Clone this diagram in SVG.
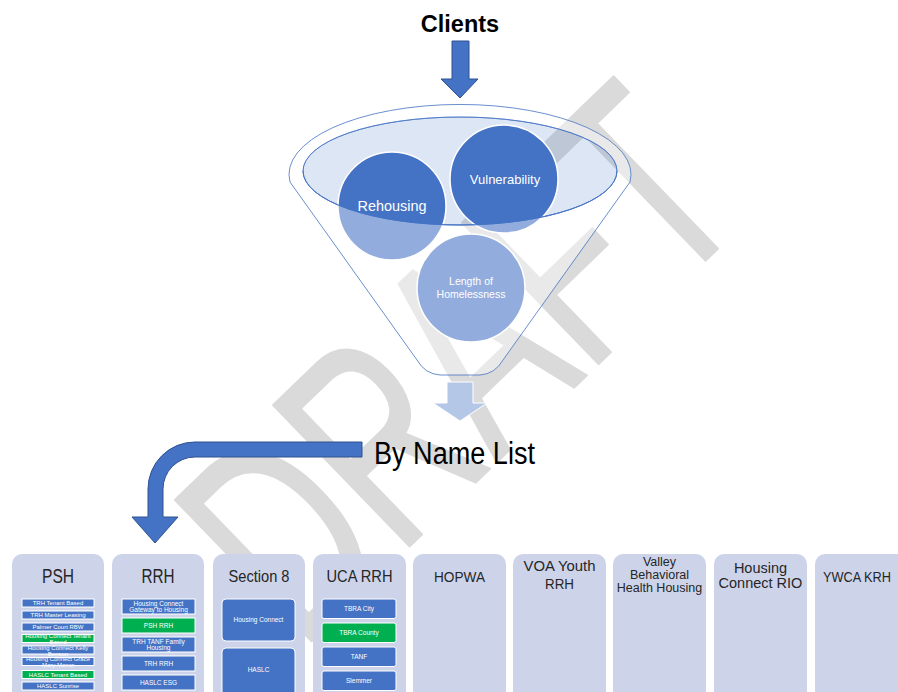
<svg xmlns="http://www.w3.org/2000/svg" width="898" height="692" viewBox="0 0 898 692">
<defs>
<style>
text{font-family:"Liberation Sans",Arial,sans-serif}
.wm{fill:#dadada;stroke:#dadada;stroke-width:2.5;stroke-linejoin:round;font-size:285px}
.col{fill:#cdd4ea}
.hd{fill:#262626;text-anchor:middle}
.sb{fill:#4472c4;stroke:#fff;stroke-width:1}
.sg{fill:#00b050;stroke:#fff;stroke-width:1}
.st{fill:#fff;text-anchor:middle;font-size:6px}
.st2{fill:#fff;text-anchor:middle;font-size:6.5px}
.ct{fill:#fff;text-anchor:middle}
.circ{fill:#4472c4;stroke:#fff;stroke-width:1.5}
.arr{fill:#4472c4;stroke:#2f528f;stroke-width:1}
</style>
</defs>
<rect width="898" height="692" fill="#fff"/>
<g id="watermark">
<text class="wm" transform="translate(300,652) rotate(-44)" textLength="630" lengthAdjust="spacingAndGlyphs">DRAFT</text>
</g>
<g id="funnel">
<ellipse cx="460" cy="171" rx="157" ry="54" fill="#4472c4" fill-opacity="0.18" stroke="#4472c4" stroke-width="0.8"/>
<g id="circle-rehousing"><circle class="circ" cx="392" cy="206" r="54"/></g>
<g id="circle-vulnerability"><circle class="circ" cx="504" cy="179" r="54"/></g>
<g id="circle-length"><circle class="circ" cx="471" cy="288" r="54"/></g>
<path d="M290,182 A171,70 0 1 1 630,182 L503,360 Q495,374 480,375 L440,375 Q425,374 417,360 Z M303,171 A157,54 0 1 0 617,171 A157,54 0 1 0 303,171 Z" fill="#fff" fill-opacity="0.42" fill-rule="evenodd" stroke="#4472c4" stroke-width="0.8"/>
<path d="M303,171 A157,54 0 0 0 617,171" fill="none" stroke="#4472c4" stroke-width="0.8"/>
<text class="ct" x="392" y="211" font-size="15" textLength="69" lengthAdjust="spacingAndGlyphs">Rehousing</text>
<text class="ct" x="505" y="184" font-size="13">Vulnerability</text>
<text class="ct" x="471" y="285" font-size="10.5">Length of</text>
<text class="ct" x="471" y="298" font-size="10.5">Homelessness</text>
</g>
<g id="clients"><text x="460" y="32" text-anchor="middle" font-size="23.5" font-weight="bold" fill="#000">Clients</text></g>
<g id="by-name-list"><text x="374" y="464" font-size="31" fill="#000" textLength="161" lengthAdjust="spacingAndGlyphs">By Name List</text></g>
<g id="connectors">
<path class="arr" d="M452,41 L469,41 L469,79 L478,79 L460,98 L441,79 L452,79 Z"/>
<path d="M447,382 L473,382 L473,403 L487,403 L460,421 L433,403 L447,403 Z" fill="#b4c7e7" stroke="#fff" stroke-width="1"/>
<path class="arr" d="M362,442 L195,442 A47,47 0 0 0 148,489 L148,517 L132,517 L155,543 L178,517 L163,517 L163,489 A32,32 0 0 1 195,457 L362,457 Z"/>
</g>
<g id="col-psh">
<rect class="col" x="12" y="554" width="92" height="150" rx="10"/>
<text class="hd" x="58" y="583" font-size="21" textLength="32" lengthAdjust="spacingAndGlyphs">PSH</text>
<rect class="sb" x="22" y="599" width="72" height="8"/><text class="st" x="58" y="605">TRH Tenant Based</text>
<rect class="sb" x="22" y="611" width="72" height="8"/><text class="st" x="58" y="617">TRH Master Leasing</text>
<rect class="sb" x="22" y="623" width="72" height="8"/><text class="st" x="58" y="629">Palmer Court RBW</text>
<rect class="sg" x="22" y="634.5" width="72" height="8"/><text class="st" x="58" y="638">Housing Connect Tenant</text><text class="st" x="58" y="644">Based</text>
<rect class="sb" x="22" y="646" width="72" height="8"/><text class="st" x="58" y="649.5">Housing Connect Kelly</text><text class="st" x="58" y="655.5">Benson</text>
<rect class="sb" x="22" y="657.5" width="72" height="8"/><text class="st" x="58" y="661">Housing Connect Grace</text><text class="st" x="58" y="667">Mary Manor</text>
<rect class="sg" x="22" y="670.5" width="72" height="8"/><text class="st" x="58" y="676.5">HASLC Tenant Based</text>
<rect class="sb" x="22" y="682" width="72" height="8"/><text class="st" x="58" y="688">HASLC Sunrise</text>
</g>
<g id="col-rrh">
<rect class="col" x="112" y="554" width="92" height="150" rx="10"/>
<text class="hd" x="158" y="583" font-size="21" textLength="33" lengthAdjust="spacingAndGlyphs">RRH</text>
<rect class="sb" x="122" y="599" width="73" height="15"/><text class="st2" x="158.5" y="605.5">Housing Connect</text><text class="st2" x="158.5" y="612">Gateway to Housing</text>
<rect class="sg" x="122" y="618" width="73" height="15"/><text class="st2" x="158.5" y="627.5">PSH RRH</text>
<rect class="sb" x="122" y="637" width="73" height="15"/><text class="st2" x="158.5" y="643.5">TRH TANF Family</text><text class="st2" x="158.5" y="650">Housing</text>
<rect class="sb" x="122" y="656" width="73" height="15"/><text class="st2" x="158.5" y="665.5">TRH RRH</text>
<rect class="sb" x="122" y="675" width="73" height="15"/><text class="st2" x="158.5" y="684.5">HASLC ESG</text>
</g>
<g id="col-section8">
<rect class="col" x="213" y="554" width="92" height="150" rx="10"/>
<text class="hd" x="259" y="582" font-size="16.5" textLength="61" lengthAdjust="spacingAndGlyphs">Section 8</text>
<rect class="sb" x="222" y="599" width="73" height="42" rx="4"/><text class="st2" x="258.5" y="622">Housing Connect</text>
<rect class="sb" x="222" y="648" width="73" height="50" rx="4"/><text class="st2" x="258.5" y="672">HASLC</text>
</g>
<g id="col-uca-rrh">
<rect class="col" x="313" y="554" width="93" height="150" rx="10"/>
<text class="hd" x="359.5" y="582" font-size="16.5" textLength="66" lengthAdjust="spacingAndGlyphs">UCA RRH</text>
<rect class="sb" x="322" y="599" width="74" height="19.5" rx="2"/><text class="st2" x="359" y="611">TBRA City</text>
<rect class="sg" x="322" y="623" width="74" height="19.5" rx="2"/><text class="st2" x="359" y="635">TBRA County</text>
<rect class="sb" x="322" y="647" width="74" height="19.5" rx="2"/><text class="st2" x="359" y="659">TANF</text>
<rect class="sb" x="322" y="671" width="74" height="19.5" rx="2"/><text class="st2" x="359" y="683">Slemmer</text>
</g>
<g id="col-hopwa">
<rect class="col" x="413" y="554" width="93" height="150" rx="10"/>
<text class="hd" x="459.5" y="582" font-size="15.5" textLength="51" lengthAdjust="spacingAndGlyphs">HOPWA</text>
</g>
<g id="col-voa">
<rect class="col" x="513" y="554" width="93" height="150" rx="10"/>
<text class="hd" x="559.5" y="571" font-size="15.5" textLength="72" lengthAdjust="spacingAndGlyphs">VOA Youth</text>
<text class="hd" x="559.5" y="589" font-size="15.5" textLength="29" lengthAdjust="spacingAndGlyphs">RRH</text>
</g>
<g id="col-valley">
<rect class="col" x="613" y="554" width="93" height="150" rx="10"/>
<text class="hd" x="659.5" y="566" font-size="12.5">Valley</text>
<text class="hd" x="659.5" y="579" font-size="12.5">Behavioral</text>
<text class="hd" x="659.5" y="592" font-size="12.5">Health Housing</text>
</g>
<g id="col-hc-rio">
<rect class="col" x="714" y="554" width="93" height="150" rx="10"/>
<text class="hd" x="760.5" y="573" font-size="14.5">Housing</text>
<text class="hd" x="760.5" y="588" font-size="14.5">Connect RIO</text>
</g>
<g id="col-ywca">
<rect class="col" x="815" y="554" width="93" height="150" rx="10"/>
<text class="hd" x="857" y="582" font-size="15" textLength="68" lengthAdjust="spacingAndGlyphs">YWCA KRH</text>
</g>
</svg>
